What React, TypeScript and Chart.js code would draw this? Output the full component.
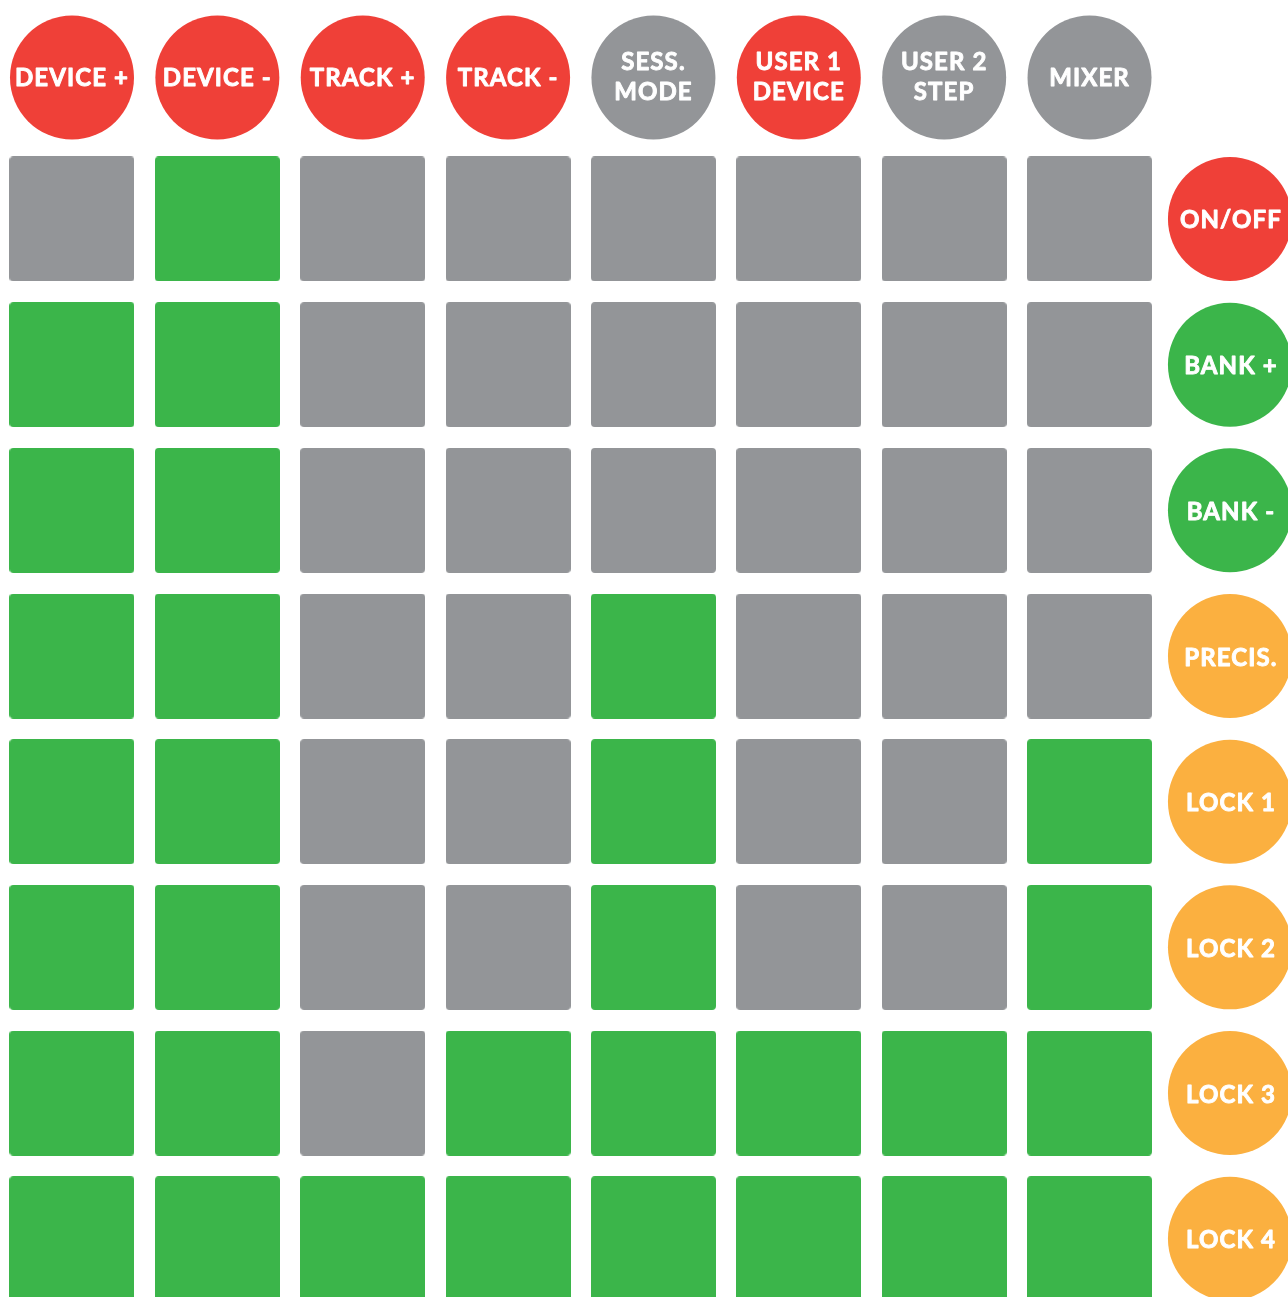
import { useEffect, useRef } from "react";
import { Chart, registerables } from "chart.js";

Chart.register(...registerables);

const CANVAS_W = 1288;
const CANVAS_H = 1297;

// 1 = green (lit) pad, 0 = grey pad; rows top to bottom
const padRows: number[][] = [
  [0, 1, 0, 0, 0, 0, 0, 0],
  [1, 1, 0, 0, 0, 0, 0, 0],
  [1, 1, 0, 0, 0, 0, 0, 0],
  [1, 1, 0, 0, 1, 0, 0, 0],
  [1, 1, 0, 0, 1, 0, 0, 1],
  [1, 1, 0, 0, 1, 0, 0, 1],
  [1, 1, 0, 1, 1, 1, 1, 1],
  [1, 1, 1, 1, 1, 1, 1, 1],
];

const topLabels: string[][] = [
  ["DEVICE +"],
  ["DEVICE -"],
  ["TRACK +"],
  ["TRACK -"],
  ["SESS.", "MODE"],
  ["USER 1", "DEVICE"],
  ["USER 2", "STEP"],
  ["MIXER"],
];
const topColors = ["red", "red", "red", "red", "grey", "red", "grey", "grey"];

const sideLabels = ["ON/OFF", "BANK +", "BANK -", "PRECIS.", "LOCK 1", "LOCK 2", "LOCK 3", "LOCK 4"];
const sideColors = ["red", "green", "green", "orange", "orange", "orange", "orange", "orange"];

// positions of the top button row and side button column, in grid units
const TOP_ROW_Y = -0.971;
const SIDE_COL_X = 7.966;

const PALETTE: Record<string, string> = {
  red: "#EF4038",
  grey: "#939598",
  green: "#3BB54A",
  orange: "#FBB040",
};

const FONT_FAMILY = "Lato, 'Open Sans', sans-serif";

function makePad(color: string): HTMLCanvasElement {
  const c = document.createElement("canvas");
  c.width = 125;
  c.height = 125;
  const ctx = c.getContext("2d")!;
  ctx.fillStyle = color;
  ctx.beginPath();
  (ctx as any).roundRect(0, 0, 125, 125, 4);
  ctx.fill();
  return c;
}

export default function App() {
  const ref = useRef<HTMLCanvasElement | null>(null);

  useEffect(() => {
    if (!ref.current) return;
    const greenPad = makePad(PALETTE.green);
    const greyPad = makePad(PALETTE.grey);

    const greenPts: { x: number; y: number }[] = [];
    const greyPts: { x: number; y: number }[] = [];
    padRows.forEach((row, r) =>
      row.forEach((v, c) => {
        (v ? greenPts : greyPts).push({ x: c, y: r });
      })
    );
    const topPts = topLabels.map((_, i) => ({ x: i, y: TOP_ROW_Y }));
    const sidePts = sideLabels.map((_, i) => ({ x: SIDE_COL_X, y: i }));

    const labelPlugin = {
      id: "buttonLabels",
      afterDatasetsDraw(chart: any) {
        const ctx = chart.ctx as CanvasRenderingContext2D;
        const xs = chart.scales.x;
        const ys = chart.scales.y;
        ctx.save();
        ctx.fillStyle = "#FFFFFF";
        ctx.strokeStyle = "#FFFFFF";
        ctx.lineWidth = 0.9;
        ctx.lineJoin = "round";
        ctx.textAlign = "center";
        ctx.textBaseline = "alphabetic";
        ctx.font = `bold 24px ${FONT_FAMILY}`;
        (ctx as any).letterSpacing = "1.1px";
        const put = (t: string, x: number, y: number) => {
          ctx.fillText(t, x, y);
          ctx.strokeText(t, x, y);
        };
        topLabels.forEach((lines, i) => {
          const cx = xs.getPixelForValue(i);
          const cy = ys.getPixelForValue(TOP_ROW_Y);
          if (lines.length === 1) {
            put(lines[0], cx, cy + 8.5);
          } else {
            put(lines[0], cx, cy - 7.5);
            put(lines[1], cx, cy + 22.5);
          }
        });
        sideLabels.forEach((label, i) => {
          const cx = xs.getPixelForValue(SIDE_COL_X);
          const cy = ys.getPixelForValue(i);
          put(label, cx + 1, cy + 9.5);
        });
        ctx.restore();
      },
    };

    const chart = new Chart(ref.current, {
      type: "scatter",
      data: {
        datasets: [
          {
            data: greyPts,
            pointStyle: greyPad as any,
            pointRadius: 62,
          },
          {
            data: greenPts,
            pointStyle: greenPad as any,
            pointRadius: 62,
          },
          {
            data: topPts,
            pointStyle: "circle",
            pointRadius: 62,
            pointBorderWidth: 0,
            backgroundColor: topColors.map((c) => PALETTE[c]),
            borderColor: topColors.map((c) => PALETTE[c]),
          },
          {
            data: sidePts,
            pointStyle: "circle",
            pointRadius: 62,
            pointBorderWidth: 0,
            backgroundColor: sideColors.map((c) => PALETTE[c]),
            borderColor: sideColors.map((c) => PALETTE[c]),
          },
        ],
      },
      options: {
        animation: false,
        responsive: false,
        devicePixelRatio: 1,
        events: [],
        layout: { padding: 0, autoPadding: false },
        plugins: {
          legend: { display: false },
          tooltip: { enabled: false },
        },
        scales: {
          x: {
            type: "linear",
            display: false,
            min: -0.4953,
            max: 8.3654,
          },
          y: {
            type: "linear",
            display: false,
            reverse: true,
            min: -1.5034,
            max: 7.4003,
          },
        },
      },
      plugins: [labelPlugin],
    });

    let alive = true;
    (document as any).fonts?.load?.(`bold 24px Lato`).then(() => {
      if (alive) chart.draw();
    });

    return () => {
      alive = false;
      chart.destroy();
    };
  }, []);

  return (
    <div style={{ position: "fixed", left: 0, top: 0, width: CANVAS_W, height: CANVAS_H, background: "#FFFFFF" }}>
      <canvas ref={ref} width={CANVAS_W} height={CANVAS_H} style={{ display: "block", width: CANVAS_W, height: CANVAS_H }} />
    </div>
  );
}
